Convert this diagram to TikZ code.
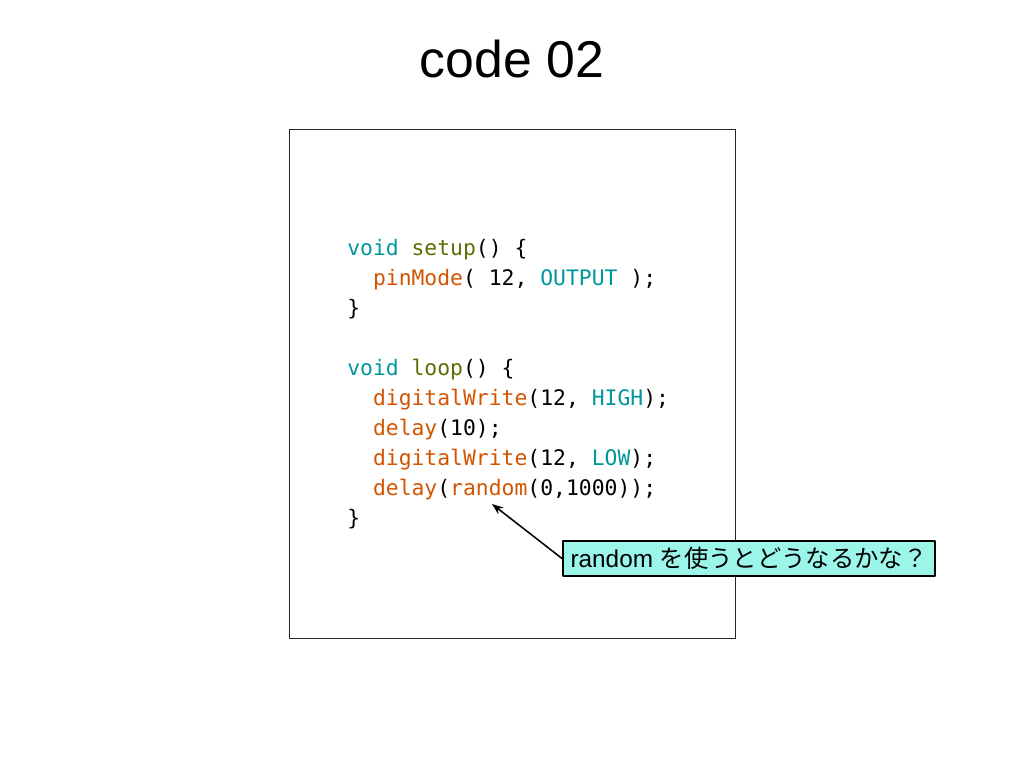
\documentclass[tikz,border=0pt]{standalone}
\usepackage{fontspec}
\usetikzlibrary{arrows.meta}
\setmainfont{Liberation Sans}
\newfontfamily\jpfont{Noto Sans CJK JP}
\newfontfamily\codefont{DejaVu Sans Mono}
\definecolor{kwteal}{RGB}{0,151,156}
\definecolor{fnolive}{RGB}{94,109,3}
\definecolor{fnorange}{RGB}{211,84,0}
\definecolor{notefill}{RGB}{155,246,233}
\tikzset{
  codeline/.style={anchor=base west,inner sep=0pt,font=\codefont\fontsize{15.2}{18}\selectfont},
  notebox/.style={draw,fill=notefill,line width=1.3pt,minimum width=9.3cm,minimum height=0.86cm,inner sep=0pt,font=\fontsize{17.3}{20}\selectfont}
}
\newcommand{\kw}[1]{\textcolor{kwteal}{#1}}
\newcommand{\fn}[1]{\textcolor{fnorange}{#1}}
\begin{document}
\begin{tikzpicture}[x=0.025cm,y=-0.025cm,>={Stealth[length=8pt,width=6pt]},line join=round]
            \useasboundingbox (0,0) rectangle (1024,768);
            \node[anchor=base,font=\fontsize{36.8}{40}\selectfont] (title) at (512,78) {code 02};
            \draw[line width=0.5pt,black!85] (289,129) rectangle (735,638);
            % code
            \node[codeline] (setup) at (347,255) {\kw{void} \textcolor{fnolive}{setup}() \{};
            \node[codeline] (pinmode) at (347,285) {\ \ \fn{pinMode}( 12, \kw{OUTPUT} );};
            \node[codeline] (setupend) at (347,315) {\}};
            \node[codeline] (loop) at (347,375) {\kw{void} \textcolor{fnolive}{loop}() \{};
            \node[codeline] (high) at (347,405) {\ \ \fn{digitalWrite}(12, \kw{HIGH});};
            \node[codeline] (wait) at (347,435) {\ \ \fn{delay}(10);};
            \node[codeline] (low) at (347,465) {\ \ \fn{digitalWrite}(12, \kw{LOW});};
            \node[codeline] (randwait) at (347,495) {\ \ \fn{delay}(\fn{random}(0,1000));};
            \node[codeline] (loopend) at (347,525) {\}};
            \coordinate (tip) at (492,504);
            % note
            \node[notebox] (note) at (749,558.5) {random {\jpfont を使うとどうなるかな？}};
            \draw[->,line width=1.1pt] (note.west) -- (tip);
        \end{tikzpicture}
\end{document}
